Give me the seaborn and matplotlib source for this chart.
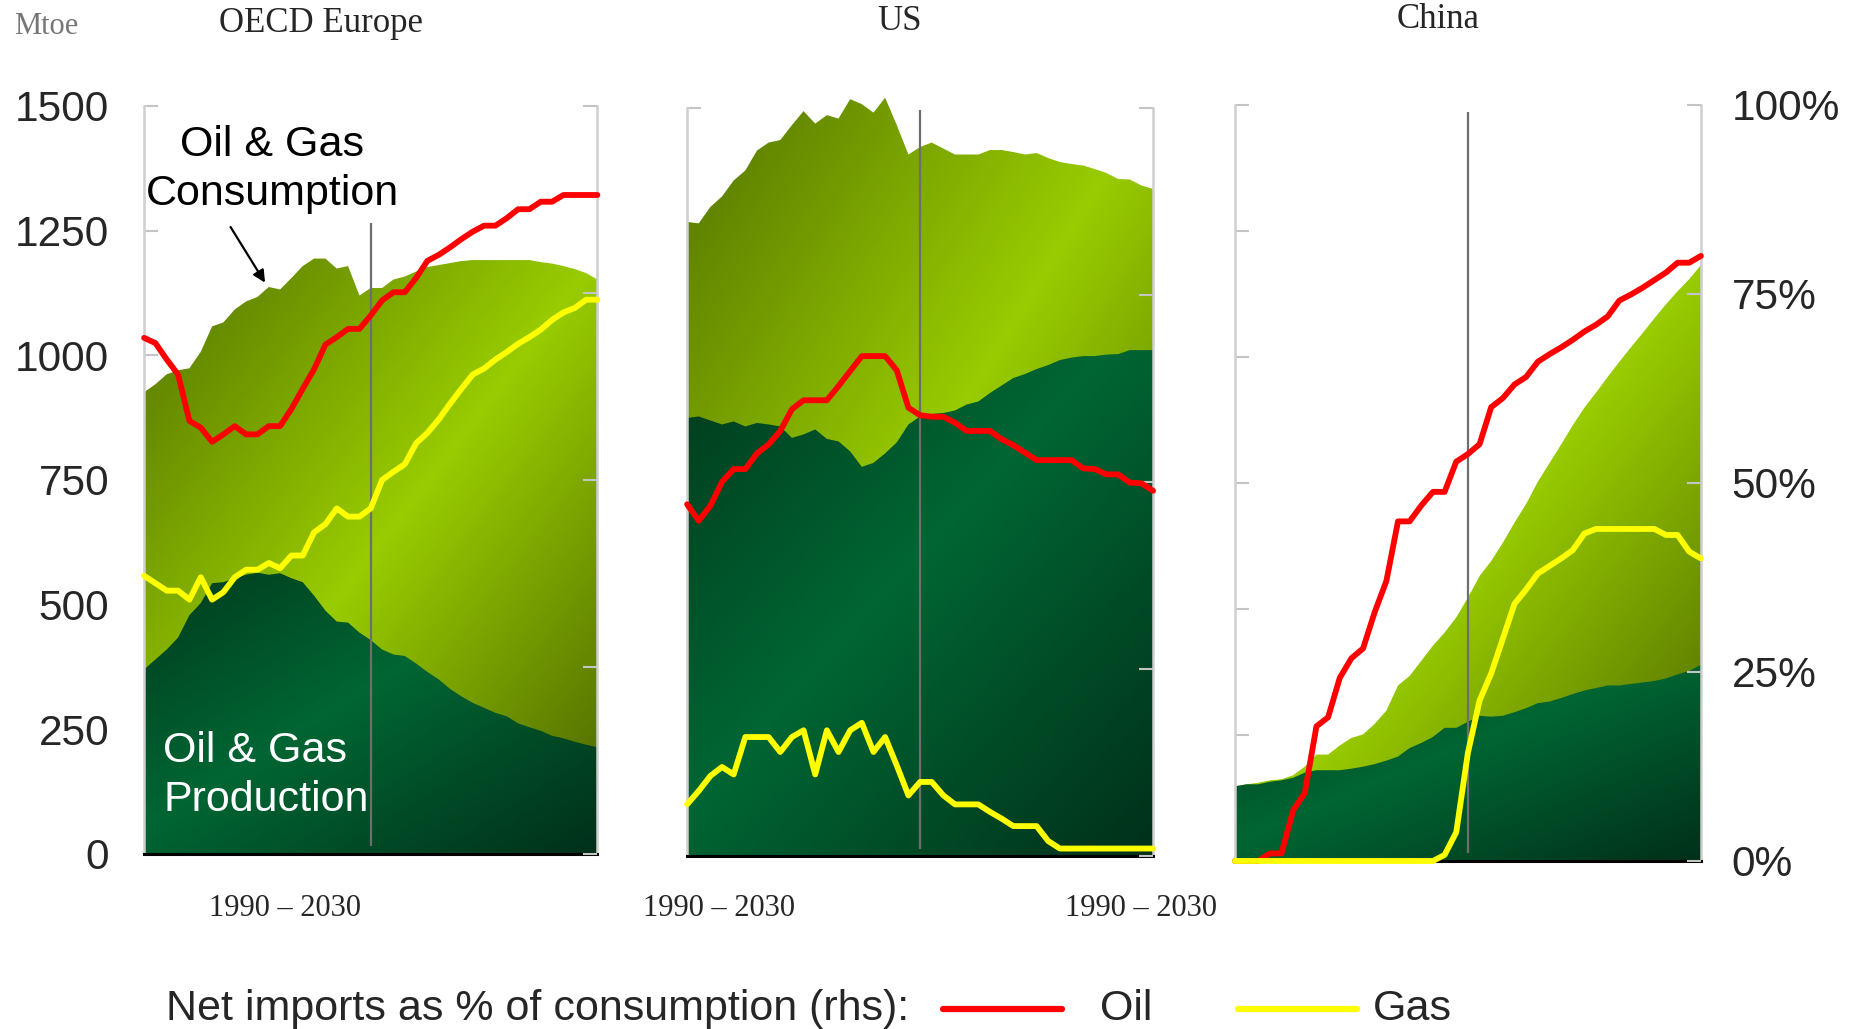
import numpy as np
import pandas as pd
import matplotlib
matplotlib.use("Agg")
import matplotlib.pyplot as plt
from matplotlib.colors import LinearSegmentedColormap
from matplotlib.lines import Line2D
import seaborn as sns

# ---------------------------------------------------------------- data
years = list(range(1990, 2031))

eu_consumption = [926, 942, 962, 970, 974, 1007, 1058, 1066, 1092, 1108, 1117, 1137, 1132, 1155,
                  1179, 1194, 1194, 1174, 1179, 1120, 1135, 1135, 1152, 1158, 1168, 1177, 1181,
                  1185, 1189, 1191, 1191, 1191, 1191, 1191, 1191, 1187, 1184, 1179, 1173, 1165, 1152]
eu_production = [370, 390, 410, 434, 479, 503, 543, 545, 553, 560, 564, 560, 563, 553, 545, 518,
                 488, 466, 464, 444, 429, 410, 400, 397, 382, 365, 350, 331, 316, 303, 293, 283,
                 276, 262, 254, 247, 237, 232, 225, 219, 214]
eu_oil = [69.0, 68.3, 66.1, 64.1, 57.9, 57.0, 55.1, 56.1, 57.2, 56.1, 56.1, 57.2, 57.2, 59.5,
          62.2, 64.8, 68.1, 69.1, 70.2, 70.2, 72.0, 74.0, 75.1, 75.1, 77.0, 79.3, 80.1, 81.1,
          82.2, 83.2, 84.0, 84.0, 85.0, 86.2, 86.2, 87.2, 87.2, 88.1, 88.1, 88.1, 88.1]
eu_gas = [37.2, 36.2, 35.2, 35.2, 34.0, 37.0, 34.0, 35.0, 37.0, 38.0, 38.0, 38.9, 38.2, 39.9,
          39.9, 43.0, 44.1, 46.2, 45.1, 45.1, 46.2, 50.0, 51.1, 52.1, 54.9, 56.3, 58.1, 60.2,
          62.2, 64.1, 64.9, 66.1, 67.1, 68.2, 69.1, 70.1, 71.4, 72.4, 73.0, 74.1, 74.1]

us_consumption = [1271, 1268, 1301, 1322, 1354, 1374, 1414, 1430, 1435, 1465, 1493, 1468, 1485,
                  1478, 1517, 1507, 1490, 1520, 1465, 1406, 1421, 1430, 1418, 1406, 1406, 1406,
                  1415, 1415, 1411, 1406, 1409, 1399, 1391, 1387, 1384, 1377, 1369, 1357, 1356,
                  1344, 1337]
us_production = [878, 881, 873, 865, 871, 861, 868, 865, 861, 838, 845, 855, 836, 831, 811, 780,
                 788, 807, 829, 865, 881, 886, 888, 893, 905, 911, 928, 943, 958, 966, 976, 984,
                 994, 999, 1002, 1002, 1005, 1006, 1014, 1014, 1014]
us_oil = [47.0, 44.8, 46.8, 50.0, 51.7, 51.7, 53.8, 55.0, 56.8, 59.7, 60.9, 60.9, 60.9, 62.8,
          64.8, 66.8, 66.8, 66.8, 64.9, 59.9, 58.9, 58.7, 58.7, 57.9, 56.8, 56.8, 56.8, 55.7,
          54.9, 53.9, 52.9, 52.9, 52.9, 52.9, 51.8, 51.7, 51.0, 51.0, 49.9, 49.8, 48.8]
us_gas = [6.9, 8.7, 10.7, 11.9, 10.9, 15.9, 15.9, 15.9, 13.9, 15.9, 16.8, 10.9, 16.8, 13.9, 16.8,
          17.8, 13.9, 15.9, 12.1, 8.1, 9.9, 9.9, 8.1, 6.9, 6.9, 6.9, 5.9, 5.0, 4.0, 4.0, 4.0,
          2.0, 1.0, 1.0, 1.0, 1.0, 1.0, 1.0, 1.0, 1.0, 1.0]

cn_consumption = [148, 152, 155, 160, 162, 170, 187, 211, 211, 229, 244, 251, 272, 298, 348, 367,
                  397, 427, 453, 483, 522, 565, 595, 631, 671, 708, 752, 789, 826, 864, 899, 929,
                  960, 990, 1019, 1047, 1076, 1104, 1130, 1154, 1182]
cn_production = [148, 152, 152, 157, 160, 165, 175, 180, 180, 180, 183, 187, 192, 199, 207, 224,
                 234, 246, 264, 264, 276, 288, 286, 288, 295, 303, 313, 316, 323, 331, 338, 343,
                 348, 348, 351, 354, 357, 362, 370, 377, 389]
cn_oil = [0, 0, 0, 1.0, 1.0, 6.7, 9.0, 17.8, 19.0, 24.2, 26.8, 28.1, 32.9, 37.0, 44.9, 44.9,
          47.0, 48.8, 48.8, 52.8, 53.8, 55.1, 60.0, 61.2, 63.0, 64.0, 66.0, 67.0, 67.9, 68.9,
          70.0, 70.9, 72.0, 74.1, 74.9, 75.8, 76.8, 77.8, 79.1, 79.1, 80.0]
cn_gas = [0, 0, 0, 0, 0, 0, 0, 0, 0, 0, 0, 0, 0, 0, 0, 0, 0, 0, 0.8, 3.8, 14.3, 21.2, 24.8,
          29.4, 34.0, 35.9, 38.0, 39.0, 40.0, 41.1, 43.3, 43.9, 43.9, 43.9, 43.9, 43.9, 43.9,
          43.1, 43.1, 40.9, 40.0]

regions = ["OECD Europe", "US", "China"]
mtoe_ticks = [0, 250, 500, 750, 1000, 1250, 1500]
pct_ticks = [0, 25, 50, 75, 100]
projection_start = 2010

# ---------------------------------------------------------------- style
sns.set_theme(style="white")
plt.rcParams["font.family"] = ["Liberation Sans", "DejaVu Sans"]
SERIF = ["Liberation Serif", "DejaVu Serif"]

cons_cmap = LinearSegmentedColormap.from_list(
    "cons", [(0, "#557400"), (0.5, "#99cc00"), (1, "#4a6300")])
prod_cmap = LinearSegmentedColormap.from_list(
    "prod", [(0, "#003a1d"), (0.45, "#006633"), (1, "#00301a")])

fig = plt.figure(figsize=(18.64, 10.29), dpi=100)

positions = [
    [0.0773, 0.1701, 0.2432, 0.7269],
    [0.3686, 0.1681, 0.2500, 0.7273],
    [0.6625, 0.1633, 0.2500, 0.7350],
]


def gradient_area(ax, x, top, cmap, zorder):
    """Fill between 0 and `top` with a diagonal gradient clipped to the area."""
    poly = ax.fill_between(x, 0, top, facecolor="none", edgecolor="none", zorder=zorder)
    x0, x1 = min(x), max(x)
    y1 = max(top)
    n = 300
    xf = np.linspace(0, 1, n)[None, :]
    yf = np.linspace(0, 1, n)[:, None]
    s = 0.5 * (xf + (1 - yf))
    img = ax.imshow(s, cmap=cmap, vmin=0, vmax=1, extent=[x0, x1, 0, y1],
                    origin="lower", aspect="auto", zorder=zorder, interpolation="bilinear")
    img.set_clip_path(poly.get_paths()[0], transform=ax.transData)
    # let peaks above the top tick show, as long as they stay inside the area outline
    img.set_clip_box(fig.bbox)


panel_data = [
    (eu_consumption, eu_production, eu_oil, eu_gas),
    (us_consumption, us_production, us_oil, us_gas),
    (cn_consumption, cn_production, cn_oil, cn_gas),
]

vline_tops = [1265, 1495, 1485]

for i, (cons, prod, oil, gas) in enumerate(panel_data):
    ax = fig.add_axes(positions[i])
    gradient_area(ax, years, cons, cons_cmap, 1)
    gradient_area(ax, years, prod, prod_cmap, 2)
    ax.vlines(projection_start, 15, vline_tops[i], color="#6e6e6e", lw=1.6, zorder=3)

    ax.set_xlim(1990, 2030)
    ax.set_ylim(0, 1500)
    ax.set_yticks(mtoe_ticks)
    ax.set_xticks([])
    ax.tick_params(axis="y", direction="in", length=10, width=1.5, color="#c4c4c4",
                   labelsize=30.5, pad=25, left=True, labelleft=(i == 0))
    for side in ["left", "right"]:
        ax.spines[side].set_color("#cfcfcf")
        ax.spines[side].set_linewidth(1.8)
    ax.spines["top"].set_visible(False)
    ax.spines["bottom"].set_color("black")
    ax.spines["bottom"].set_linewidth(2.2)
    ax.set_facecolor("none")

    tw = ax.twinx()
    df = pd.DataFrame({"year": years, "oil": oil, "gas": gas})
    sns.lineplot(data=df, x="year", y="oil", ax=tw, color="#ff0000", lw=4.2, clip_on=False)
    sns.lineplot(data=df, x="year", y="gas", ax=tw, color="#ffff00", lw=4.2, clip_on=False)
    tw.set_xlim(1990, 2030)
    tw.set_ylim(0, 100)
    tw.set_yticks(pct_ticks)
    tw.set_yticklabels([f"{t}%" for t in pct_ticks])
    tw.set_xlabel("")
    tw.set_ylabel("")
    ax.set_ylabel("")
    tw.tick_params(axis="y", direction="in", length=10, width=1.5, color="#c4c4c4",
                   labelsize=30.5, pad=22, right=True, labelright=(i == 2))
    for side in tw.spines:
        tw.spines[side].set_visible(False)

    if i == 0:
        ax.text(2001.3, 1373, "Oil & Gas\nConsumption", ha="center", va="center",
                fontsize=31, color="black", zorder=6, linespacing=1.3)
        ax.annotate("", xy=(2000.8, 1141), xytext=(1997.5, 1262),
                    arrowprops=dict(arrowstyle="-|>", color="black", lw=1.6,
                                    mutation_scale=18), zorder=6)
        ax.text(1991.7, 158, "Oil & Gas\nProduction", ha="left", va="center",
                fontsize=31, color="white", zorder=6, linespacing=1.3)

# ---------------------------------------------------------------- titles & labels
fig.text(14 / 1864, 1 - 26 / 1029, "Mtoe", family=SERIF, fontsize=22, color="#777777",
         ha="left", va="center")
fig.text(321 / 1864, 1 - 24 / 1029, regions[0], family=SERIF, fontsize=25, ha="center", va="center")
fig.text(900 / 1864, 1 - 21 / 1029, regions[1], family=SERIF, fontsize=25, ha="center", va="center")
fig.text(1438 / 1864, 1 - 19 / 1029, regions[2], family=SERIF, fontsize=25, ha="center", va="center")

for xc in [285, 719, 1141]:
    fig.text(xc / 1864, 1 - 909 / 1029, "1990 \u2013 2030", family=SERIF, fontsize=22,
             ha="center", va="center")

# ---------------------------------------------------------------- legend
ly = 1 - 1009 / 1029
fig.text(166 / 1864, ly, "Net imports as % of consumption (rhs):", fontsize=31,
         ha="left", va="center")
fig.add_artist(Line2D([943 / 1864, 1062 / 1864], [ly, ly], color="#ff0000", lw=4.5,
                      transform=fig.transFigure))
fig.text(1100 / 1864, ly, "Oil", fontsize=31, ha="left", va="center")
fig.add_artist(Line2D([1238 / 1864, 1357 / 1864], [ly, ly], color="#ffff00", lw=4.5,
                      transform=fig.transFigure))
fig.text(1373 / 1864, ly, "Gas", fontsize=31, ha="left", va="center")

fig.savefig("out.png", dpi=100)
